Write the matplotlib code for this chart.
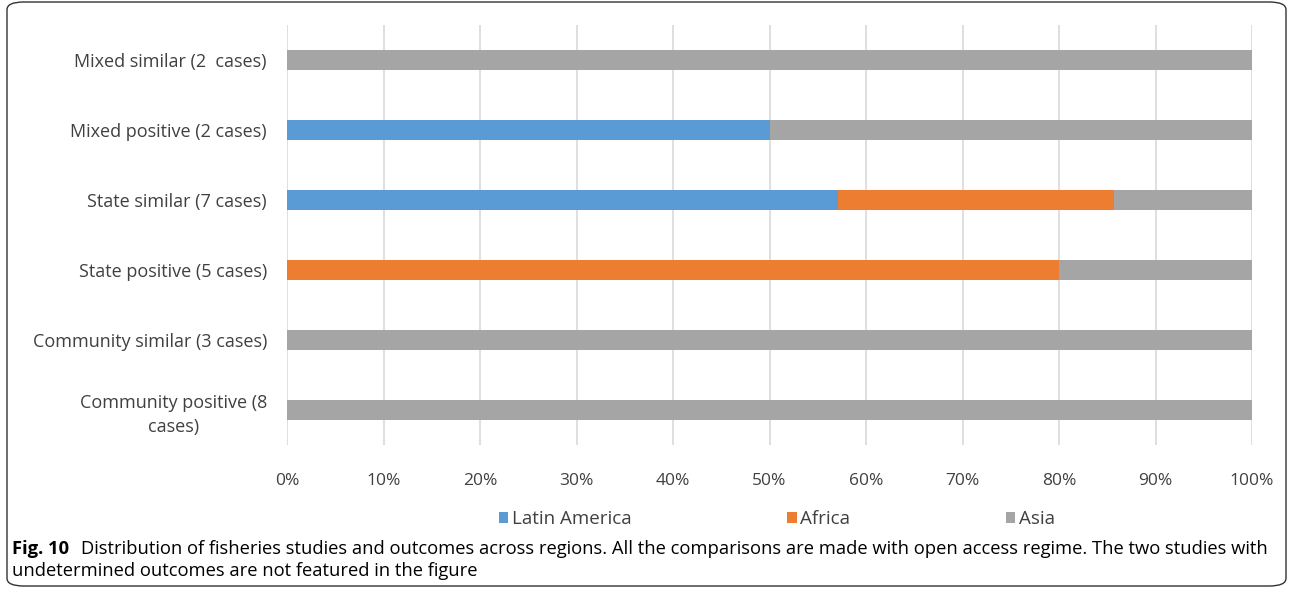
import numpy as np
import matplotlib.pyplot as plt
from matplotlib.patches import FancyBboxPatch

categories = ['Community positive (8\ncases)', 'Community similar (3 cases)',
              'State positive (5 cases)', 'State similar (7 cases)',
              'Mixed positive (2 cases)', 'Mixed similar (2  cases)']
regions = ['Latin America', 'Africa', 'Asia']
# number of studies per outcome and region
latin_america = np.array([0, 0, 0, 4, 1, 0])
africa = np.array([0, 0, 4, 2, 0, 0])
asia = np.array([8, 3, 1, 1, 1, 2])
colors = ['#5B9BD5', '#ED7D31', '#A5A5A5']
xticks = np.arange(0, 101, 10)

plt.rcParams['font.family'] = ['Open Sans', 'DejaVu Sans']

counts = np.vstack([latin_america, africa, asia])
shares = counts / counts.sum(axis=0) * 100

fig = plt.figure(figsize=(12.92, 5.93), dpi=100)
ax = fig.add_axes([287 / 1292, 1 - 445 / 593, (1252 - 287) / 1292, 420 / 593])

y = np.arange(len(categories))
left = np.zeros(len(categories))
for name, vals, c in zip(regions, shares, colors):
    ax.barh(y, vals, left=left, height=0.29, color=c, label=name, zorder=3)
    left += vals

ax.set_xlim(0, 100)
ax.set_ylim(-0.5, len(categories) - 0.5)
ax.set_xticks(xticks)
ax.set_xticklabels([f'{t}%' for t in xticks], fontsize=12.5, color='#404040')
ax.set_yticks(y)
ax.set_yticklabels(categories, fontsize=13, color='#404040', ha='right',
                   multialignment='center')
for lab in ax.get_yticklabels():
    lab.set_linespacing(1.4)
ax.tick_params(axis='y', length=0, pad=14.4)
ax.tick_params(axis='x', length=0, pad=20)
ax.grid(axis='x', color='#D9D9D9', linewidth=1.2, zorder=0)
for s in ax.spines.values():
    s.set_visible(False)

fig.legend(loc='center', bbox_to_anchor=(777 / 1292, 1 - 519 / 593), ncol=3,
           frameon=False, fontsize=13.5, handlelength=0.5, handleheight=0.5,
           handletextpad=0.2, columnspacing=8.3, labelcolor='#404040')

# caption
box = FancyBboxPatch((7 / 1292, 7 / 593), 1279 / 1292, 584 / 593,
                     boxstyle='round,pad=0,rounding_size=0.013',
                     transform=fig.transFigure, fill=False,
                     edgecolor='#333333', linewidth=1.0)
fig.patches.append(box)

t1 = fig.text(12 / 1292, 1 - 549 / 593, 'Fig. 10', fontsize=13.2,
              fontweight='bold', va='center')
fig.canvas.draw()
bb = t1.get_window_extent()
fig.text(bb.x1 / 1292 + 12 / 1292, 1 - 549 / 593,
         'Distribution of fisheries studies and outcomes across regions. All the comparisons '
         'are made with open access regime. The two studies with',
         fontsize=13.2, va='center')
fig.text(12 / 1292, 1 - 571 / 593, 'undetermined outcomes are not featured in the figure',
         fontsize=13.2, va='center')

fig.savefig('out.png', dpi=100)
